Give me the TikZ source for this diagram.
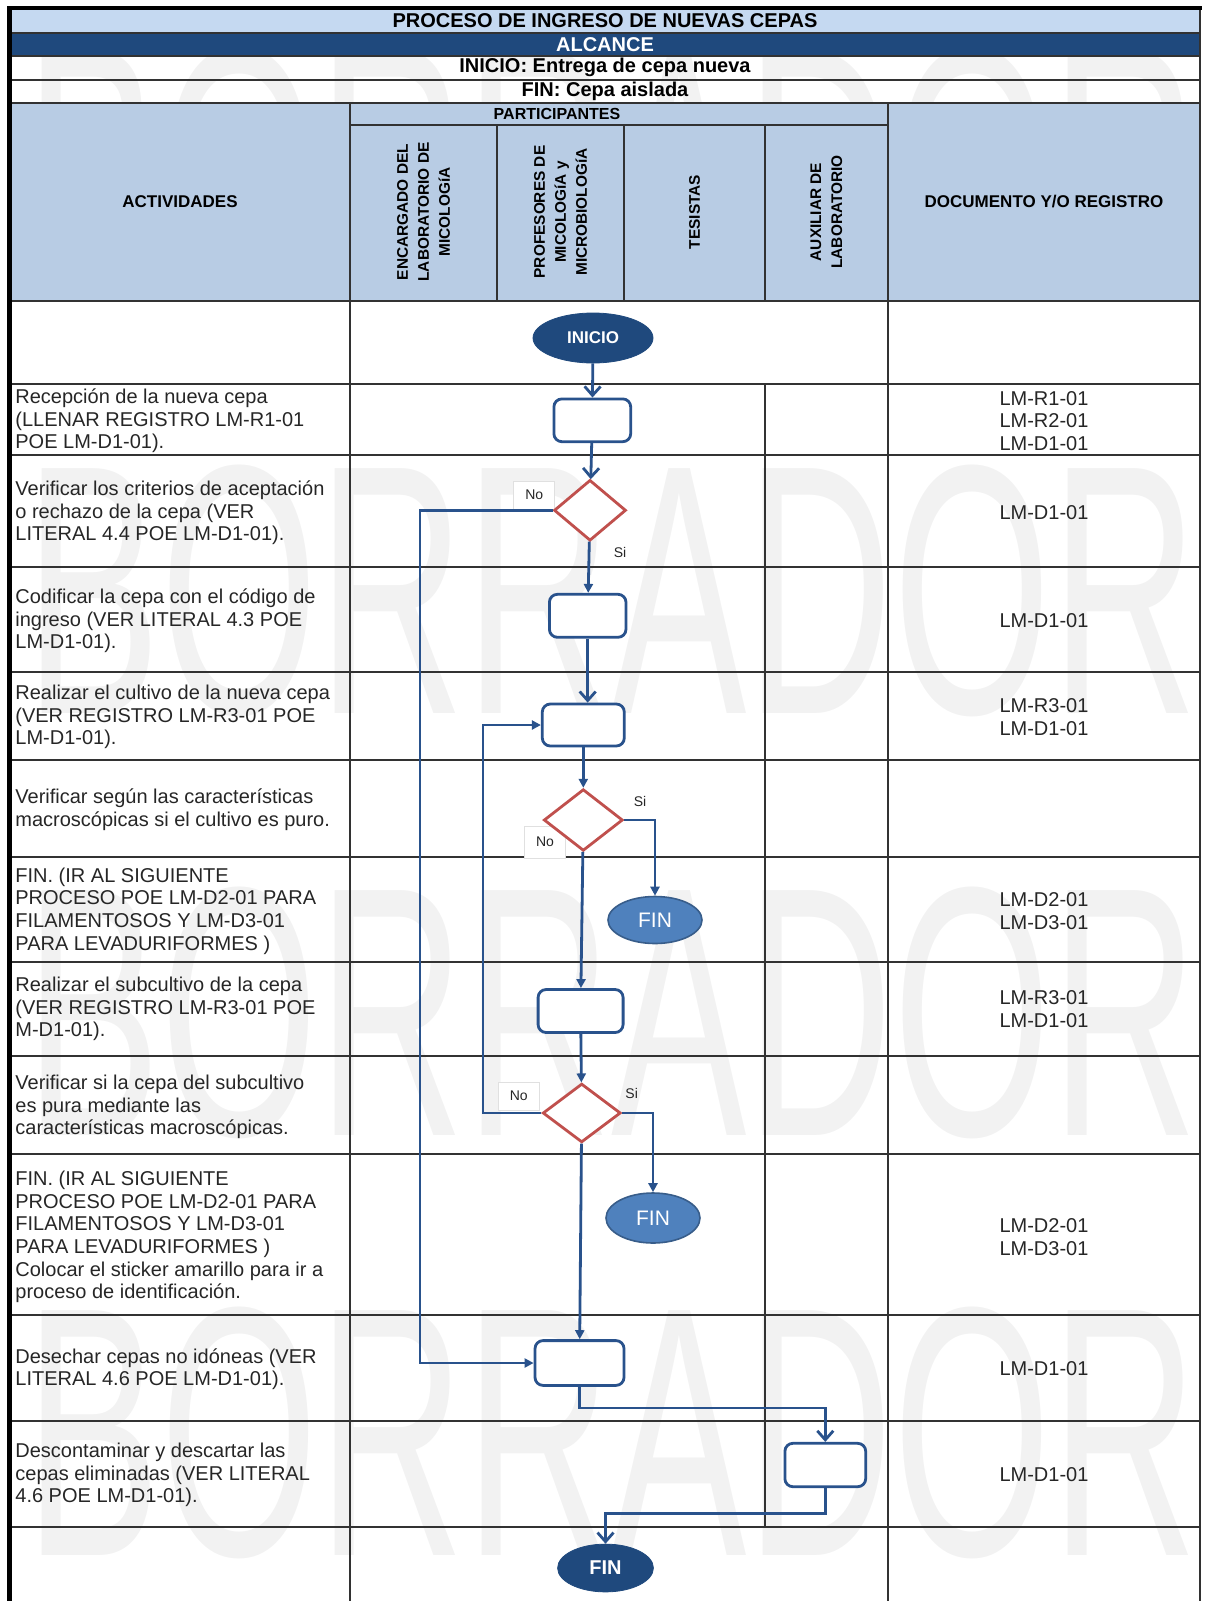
\documentclass[tikz,border=0pt]{standalone}
\usepackage{graphicx}
\usepackage{fontspec}
\setmainfont{Liberation Sans}
\usetikzlibrary{positioning, shapes.geometric, arrows.meta}
\definecolor{lblue}{RGB}{197,217,241}
\definecolor{hblue}{RGB}{184,204,228}
\definecolor{navy}{RGB}{31,73,125}
\definecolor{flow}{RGB}{41,82,140}
\definecolor{finblue}{RGB}{79,129,189}
\definecolor{finedge}{RGB}{56,93,138}
\definecolor{dred}{RGB}{192,80,77}
\definecolor{gridc}{RGB}{50,50,50}
\definecolor{wmark}{RGB}{242,242,242}

\begin{document}
\begin{tikzpicture}[
        x=0.5pt, y=-0.5pt,
        tline/.style={
          draw=gridc,
          line width=1pt
        },
        wm/.style={
          anchor=base west,
          inner sep=0pt,
          text=wmark,
          font=\fontsize{178}{178}\selectfont
        },
        hdr/.style={
          inner sep=0pt,
          font=\bfseries\fontsize{10}{12}\selectfont
        },
        col/.style={
          rotate=90,
          inner sep=0pt,
          align=center,
          font=\bfseries\fontsize{7.7}{10.5}\selectfont
        },
        act/.style={
          anchor=west,
          inner sep=0pt,
          align=left,
          text=black!85,
          font=\fontsize{10}{11.3}\selectfont
        },
        doc/.style={
          inner sep=0pt,
          align=center,
          text=black!85,
          font=\fontsize{10}{11.3}\selectfont
        },
        proc/.style={
          draw=flow,
          line width=1.4pt,
          fill=white,
          rounded corners=4pt,
          inner sep=0pt
        },
        dec/.style={
          diamond,
          draw=dred,
          line width=1.4pt,
          fill=white,
          inner sep=0pt
        },
        term/.style={
          ellipse,
          draw=navy,
          fill=navy,
          text=white,
          inner sep=0pt,
          font=\bfseries\fontsize{8.5}{10}\selectfont
        },
        fin/.style={
          ellipse,
          draw=finedge,
          line width=0.8pt,
          fill=finblue,
          text=white,
          inner sep=0pt,
          font=\fontsize{10.5}{12}\selectfont
        },
        lbl/.style={
          inner sep=0pt,
          text=black!85,
          font=\fontsize{7}{8}\selectfont
        },
        nobox/.style={
          lbl,
          fill=white,
          draw=black!12,
          line width=0.4pt,
          minimum width=20.5pt,
          minimum height=14pt
        },
        link/.style={
          draw=flow,
          line width=1.4pt,
          -{Triangle[length=4.5pt,width=4.5pt]}
        },
        vlink/.style={
          draw=flow,
          line width=1.4pt,
          -{Straight Barb[length=4.5pt,width=8pt]}
        }
      ]
        \useasboundingbox (0,0) rectangle (1205,1601);

        \node[wm] (w1) at (25,295) {\scalebox{0.57}[1]{BORRADOR}};
        \node[wm] (w2) at (25,713) {\scalebox{0.57}[1]{BORRADOR}};
        \node[wm] (w3) at (25,1135) {\scalebox{0.57}[1]{BORRADOR}};
        \node[wm] (w4) at (25,1555) {\scalebox{0.57}[1]{BORRADOR}};

        \fill[lblue] (10,8) rectangle (1200,32.7);
        \fill[navy] (10,32.7) rectangle (1200,56.2);
        \fill[hblue] (10,103.1) rectangle (1200,301.3);

        \draw[tline] (10,32.7) -- (1200,32.7)
          (10,56.2) -- (1200,56.2)
          (10,79.7) -- (1200,79.7)
          (10,103.1) -- (1200,103.1)
          (350,124.6) -- (888,124.6)
          (10,301.3) -- (1200,301.3)
          (10,384) -- (1200,384)
          (10,455.4) -- (1200,455.4)
          (10,566.8) -- (1200,566.8)
          (10,672) -- (1200,672)
          (10,759.8) -- (1200,759.8)
          (10,856.8) -- (1200,856.8)
          (10,962) -- (1200,962)
          (10,1056) -- (1200,1056)
          (10,1154) -- (1200,1154)
          (10,1315.3) -- (1200,1315.3)
          (10,1420.5) -- (1200,1420.5)
          (10,1526.7) -- (1200,1526.7);
        \draw[tline] (350,103.1) -- (350,1601)
          (888,103.1) -- (888,1601)
          (497,124.6) -- (497,301.3)
          (624,124.6) -- (624,301.3)
          (765,124.6) -- (765,301.3)
          (765,384) -- (765,1526.7)
          (1200,8) -- (1200,1601);
        \draw[line width=2pt] (7,8) -- (1202,8);
        \draw[line width=2.5pt] (9.5,6) -- (9.5,1601);

        \node[hdr] (tt) at (605,21) {PROCESO DE INGRESO DE NUEVAS CEPAS};
        \node[hdr, text=white] (al) at (605,44.5) {ALCANCE};
        \node[hdr] (ini) at (605,67) {INICIO: Entrega de cepa nueva};
        \node[hdr] (fn) at (605,91) {FIN: Cepa aislada};
        \node[hdr, font=\bfseries\fontsize{8}{10}\selectfont] (pa) at (557,114) {PARTICIPANTES};
        \node[hdr, font=\bfseries\fontsize{8.5}{10}\selectfont] (ac) at (180,202) {ACTIVIDADES};
        \node[hdr, font=\bfseries\fontsize{8.5}{10}\selectfont] (dr) at (1044,202) {DOCUMENTO Y/O REGISTRO};

        \node[col] (c1) at (423.5,212) {ENCARGADO DEL\\LABORATORIO DE\\MICOLOGíA};
        \node[col] (c2) at (560.5,212) {PROFESORES DE\\MICOLOGíA y\\MICROBIOLOGíA};
        \node[col] (c3) at (694.5,212) {TESISTAS};
        \node[col] (c4) at (826.5,212) {AUXILIAR DE\\LABORATORIO};

        \node[act] (a1) at (15,421) {Recepción de la nueva cepa\\(LLENAR REGISTRO LM-R1-01\\POE LM-D1-01).};
        \node[act] (a2) at (15,513) {Verificar los criterios de aceptación\\o rechazo de la cepa (VER\\LITERAL 4.4 POE LM-D1-01).};
        \node[act] (a3) at (15,621) {Codificar la cepa con el código de\\ingreso (VER LITERAL 4.3 POE\\LM-D1-01).};
        \node[act] (a4) at (15,717) {Realizar el cultivo de la nueva cepa\\(VER REGISTRO LM-R3-01 POE\\LM-D1-01).};
        \node[act] (a5) at (15,810) {Verificar según las características\\macroscópicas si el cultivo es puro.};
        \node[act] (a6) at (15,911) {FIN. (IR AL SIGUIENTE\\PROCESO POE LM-D2-01 PARA\\FILAMENTOSOS Y LM-D3-01\\PARA LEVADURIFORMES )};
        \node[act] (a7) at (15,1009) {Realizar el subcultivo de la cepa\\(VER REGISTRO LM-R3-01 POE\\M-D1-01).};
        \node[act] (a8) at (15,1107) {Verificar si la cepa del subcultivo\\es pura mediante las\\características macroscópicas.};
        \node[act] (a9) at (15,1237) {FIN. (IR AL SIGUIENTE\\PROCESO POE LM-D2-01 PARA\\FILAMENTOSOS Y LM-D3-01\\PARA LEVADURIFORMES )\\Colocar el sticker amarillo para ir a\\proceso de identificación.};
        \node[act] (a10) at (15,1369) {Desechar cepas no idóneas (VER\\LITERAL 4.6 POE LM-D1-01).};
        \node[act] (a11) at (15,1475) {Descontaminar y descartar las\\cepas eliminadas (VER LITERAL\\4.6 POE LM-D1-01).};

        \node[doc] (r1) at (1044,421) {LM-R1-01\\LM-R2-01\\LM-D1-01};
        \node[doc] (r2) at (1044,513) {LM-D1-01};
        \node[doc] (r3) at (1044,621) {LM-D1-01};
        \node[doc] (r4) at (1044,717) {LM-R3-01\\LM-D1-01};
        \node[doc] (r6) at (1044,911) {LM-D2-01\\LM-D3-01};
        \node[doc] (r7) at (1044,1009) {LM-R3-01\\LM-D1-01};
        \node[doc] (r9) at (1044,1237) {LM-D2-01\\LM-D3-01};
        \node[doc] (r10) at (1044,1369) {LM-D1-01};
        \node[doc] (r11) at (1044,1475) {LM-D1-01};

        \node[nobox] (n1) at (534.3,495) {No};
        \node[nobox, minimum height=16pt] (n2) at (545,842) {No};
        \node[nobox] (n3) at (518.8,1096) {No};
        \node[lbl] (s1) at (620,552) {Si};
        \node[lbl] (s2) at (640,801.7) {Si};
        \node[lbl] (s3) at (631.7,1093.3) {Si};

        \node[term, minimum width=60pt, minimum height=25pt] (st) at (593,338) {INICIO};
        \node[proc, minimum width=38.4pt, minimum height=21.4pt] (p1) at (592.3,420.3) {};
        \node[dec, minimum width=36pt, minimum height=30.4pt] (d1) at (590,510.3) {};
        \node[proc, minimum width=38.3pt, minimum height=21.5pt] (p2) at (587.7,615.8) {};
        \node[proc, minimum width=41pt, minimum height=21pt] (p3) at (583.3,725) {};
        \node[dec, minimum width=39.5pt, minimum height=30.8pt] (d2) at (583.3,820) {};
        \node[fin, minimum width=47pt, minimum height=23.5pt] (f1) at (655,920) {FIN};
        \node[proc, minimum width=42.5pt, minimum height=21.5pt] (p4) at (580.6,1011) {};
        \node[dec, minimum width=39pt, minimum height=29.4pt] (d3) at (581.7,1113) {};
        \node[fin, minimum width=47pt, minimum height=25pt] (f2) at (653,1218) {FIN};
        \node[proc, minimum width=44.5pt, minimum height=22.4pt] (p5) at (579.5,1363) {};
        \node[proc, minimum width=40.4pt, minimum height=21.7pt] (p6) at (825.3,1465) {};
        \node[term, minimum width=47.9pt, minimum height=23.9pt, font=\bfseries\fontsize{10}{12}\selectfont] (en) at (605.5,1568) {FIN};

        \coordinate (lq) at (420,0);
        \coordinate (lp) at (483,0);
        \coordinate (m1) at (0,1408);
        \coordinate (m2) at (0,1513.3);

        \draw[vlink] (st) -- (p1);
        \draw[vlink] (p1) -- (d1);
        \draw[link] (d1) -- (p2);
        \draw[vlink] (p2.south) -- (p2.south |- p3.north);
        \draw[link] (p3) -- (d2);
        \draw[link] (d2.east) -| (f1);
        \draw[link] (d2) -- (p4);
        \draw[link] (p4) -- (d3);
        \draw[link] (d3.east) -| (f2);
        \draw[link] (d3.west) -- (d3.west -| lp) |- (p3);
        \draw[link] (d1.west) -- (d1.west -| lq) |- (p5);
        \draw[link] (d3) -- (p5);
        \draw[vlink] (p5.south) -- (p5.south |- m1) -| (p6);
        \draw[vlink] (p6.south) -- (p6.south |- m2) -| (en);
      \end{tikzpicture}
\end{document}
